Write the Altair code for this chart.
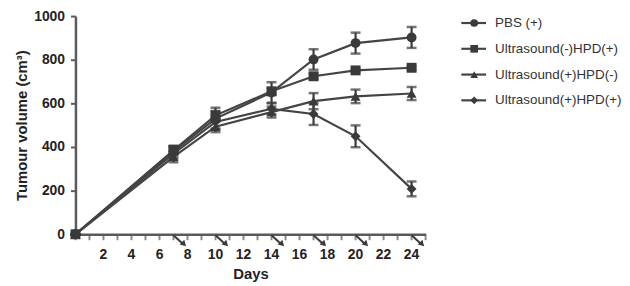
import altair as alt
import pandas as pd

days = [0, 7, 10, 14, 17, 20, 24]
series_names = ["PBS (+)", "Ultrasound(-)HPD(+)", "Ultrasound(+)HPD(-)", "Ultrasound(+)HPD(+)"]
pbs = [0, 380, 530, 650, 801, 876, 902]
pbs_err = [0, 25, 50, 47, 47, 48, 48]
us_minus_hpd_plus = [0, 385, 545, 655, 724, 751, 763]
us_minus_hpd_plus_err = [0, 20, 20, 15, 12, 8, 8]
us_plus_hpd_minus = [0, 355, 493, 560, 610, 632, 645]
us_plus_hpd_minus_err = [0, 25, 25, 25, 37, 31, 30]
us_plus_hpd_plus = [0, 370, 515, 575, 551, 449, 208]
us_plus_hpd_plus_err = [0, 25, 30, 25, 50, 50, 34]
arrow_days = [7, 10, 14, 17, 20, 24]
x_labels = [2, 4, 6, 8, 10, 12, 14, 16, 18, 20, 22, 24]
x_ticks = list(range(0, 26))
y_ticks = [0, 200, 400, 600, 800, 1000]
shapes = ["circle", "square", "triangle-up", "diamond"]

vals = [pbs, us_minus_hpd_plus, us_plus_hpd_minus, us_plus_hpd_plus]
errs = [pbs_err, us_minus_hpd_plus_err, us_plus_hpd_minus_err, us_plus_hpd_plus_err]
rows = []
for name, v, e in zip(series_names, vals, errs):
    for d, vv, ee in zip(days, v, e):
        rows.append({"day": d, "series": name, "value": vv, "lo": vv - ee, "hi": vv + ee})
df = pd.DataFrame(rows)
adf = pd.DataFrame({"day": arrow_days})
tdf = pd.DataFrame({"day": x_ticks})
ldf_x = pd.DataFrame({"day": x_labels, "label": [str(v) for v in x_labels]})

DARK = "#3a3a3a"
AX = "#5a5a5a"
FONT = "Liberation Sans"
W, H = 353, 220

xs = alt.Scale(domain=[0, 25], nice=False, zero=False)
ys = alt.Scale(domain=[0, 1000], nice=False)
shape_scale = alt.Scale(domain=series_names, range=shapes)

base = alt.Chart(df)
x_enc = alt.X("day:Q", scale=xs, title="Days",
              axis=alt.Axis(labels=False, ticks=False, grid=False, domainWidth=2.5, domainColor=AX,
                            titleFont=FONT, titleFontWeight="bold", titleFontSize=15,
                            titleColor="#222", titlePadding=33))
y_enc = alt.Y("value:Q", scale=ys, title="Tumour volume (cm³)",
              axis=alt.Axis(values=y_ticks, format="d", grid=False, tickSize=5, tickWidth=2, domainWidth=2.5,
                            labelFlush=False,
                            domainColor=AX, tickColor=AX, labelFont=FONT, labelFontWeight="bold",
                            labelFontSize=14, labelColor="#222", labelPadding=6, titleFont=FONT,
                            titleFontWeight="bold", titleFontSize=15, titleColor="#222", titlePadding=4))

lines = base.mark_line(color="#444444", strokeWidth=2.2).encode(x=x_enc, y=y_enc, detail="series:N")
bars = base.mark_rule(color=DARK, strokeWidth=2.2).encode(x="day:Q", y="lo:Q", y2="hi:Q")
caps_lo = base.mark_tick(color=DARK, thickness=2.5, size=10, orient="horizontal").encode(x="day:Q", y="lo:Q")
caps_hi = base.mark_tick(color=DARK, thickness=2.5, size=10, orient="horizontal").encode(x="day:Q", y="hi:Q")
pts = base.mark_point(filled=True, color=DARK, opacity=1, size=100).encode(
    x="day:Q", y="value:Q", shape=alt.Shape("series:N", scale=shape_scale, legend=None))

xticks = alt.Chart(tdf).mark_tick(color=AX, thickness=2, size=6, orient="vertical").encode(
    x=alt.X("day:Q", scale=xs), y=alt.value(H + 3))
xlabels = alt.Chart(ldf_x).mark_text(font=FONT, fontWeight="bold", fontSize=14, color="#222",
                                     baseline="middle", align="center").encode(
    x=alt.X("day:Q", scale=xs), y=alt.value(H + 21), text="label:N")

arrow_shaft = alt.Chart(adf).transform_calculate(x2="datum.day + 0.7").mark_rule(
    color=DARK, strokeWidth=2).encode(x=alt.X("day:Q", scale=xs), x2="x2:Q",
                                       y=alt.value(H + 1), y2=alt.value(H + 10))
arrow_head = alt.Chart(adf).transform_calculate(xh="datum.day + 0.75").mark_point(
    shape="triangle-up", angle=135, filled=True, color=DARK, opacity=1, size=45).encode(
    x=alt.X("xh:Q", scale=xs), y=alt.value(H + 10))

main = alt.layer(lines, xticks, xlabels, bars, caps_lo, caps_hi, pts, arrow_shaft, arrow_head).properties(
    width=W, height=H)

ldf = pd.DataFrame({"series": series_names})
ly = alt.Y("series:N", sort=series_names, axis=None, scale=alt.Scale(type="point", padding=0.27))
lbase = alt.Chart(ldf)
lline = lbase.mark_rule(color="#444444", strokeWidth=2.2).encode(x=alt.value(0), x2=alt.value(25), y=ly)
lpt = lbase.mark_point(filled=True, color=DARK, opacity=1, size=60).encode(
    x=alt.value(13), y=ly, shape=alt.Shape("series:N", scale=shape_scale, legend=None))
ltxt = lbase.mark_text(align="left", baseline="middle", font=FONT, fontSize=13.5, color="#333").encode(
    x=alt.value(34), y=ly, text="series:N")
legend = alt.layer(lline, lpt, ltxt).properties(width=130, height=92)

chart = alt.hconcat(main, legend, spacing=33).properties(
    padding={"top": 0, "left": 6, "right": 0, "bottom": 0}
).configure_view(stroke=None)

chart.save("out.html", embed_options={"renderer": "svg", "actions": False})
